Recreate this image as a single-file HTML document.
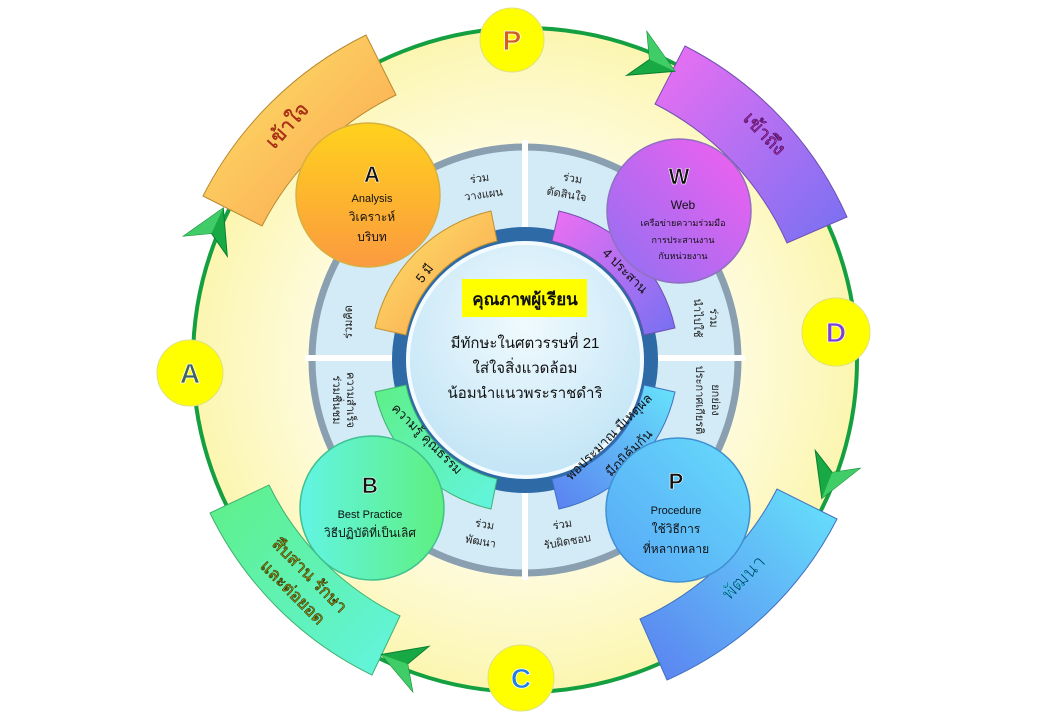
<!DOCTYPE html>
<html><head><meta charset="utf-8"><style>
html,body{margin:0;padding:0;background:#fff;}
svg{display:block;}
text{font-family:"Liberation Sans","Noto Sans CJK SC",sans-serif;}
</style></head><body>
<svg width="1040" height="720" viewBox="0 0 1040 720" xmlns="http://www.w3.org/2000/svg">
<defs>
<radialGradient id="bg" cx="525" cy="360" r="332" gradientUnits="userSpaceOnUse">
<stop offset="0.35" stop-color="#ffffff"/><stop offset="1" stop-color="#fcf6b0"/></radialGradient>
<linearGradient id="gy" x1="0" y1="0" x2="1" y2="1"><stop offset="0" stop-color="#fde56a"/><stop offset="1" stop-color="#fba04e"/></linearGradient>
<linearGradient id="gp" x1="0" y1="0" x2="1" y2="1"><stop offset="0" stop-color="#ee6ff2"/><stop offset="1" stop-color="#7670f2"/></linearGradient>
<linearGradient id="gb" x1="1" y1="0" x2="0" y2="1"><stop offset="0" stop-color="#66e4fb"/><stop offset="1" stop-color="#5a7ff0"/></linearGradient>
<linearGradient id="gg" x1="0" y1="0" x2="1" y2="1"><stop offset="0" stop-color="#5ef086"/><stop offset="1" stop-color="#62f4e0"/></linearGradient>
<linearGradient id="pa" x1="0" y1="0" x2="0" y2="1"><stop offset="0" stop-color="#ffd21c"/><stop offset="1" stop-color="#fb9a40"/></linearGradient>
<linearGradient id="pw" x1="0" y1="1" x2="1" y2="0"><stop offset="0" stop-color="#8f70f2"/><stop offset="1" stop-color="#f460ef"/></linearGradient>
<linearGradient id="pb" x1="0" y1="0" x2="1" y2="0"><stop offset="0" stop-color="#62f4e4"/><stop offset="1" stop-color="#5ef080"/></linearGradient>
<linearGradient id="pp" x1="0" y1="1" x2="1" y2="0"><stop offset="0" stop-color="#58a6f6"/><stop offset="1" stop-color="#66dcfb"/></linearGradient>
<radialGradient id="ctr" cx="0.5" cy="0.35" r="0.7"><stop offset="0" stop-color="#f0fafe"/><stop offset="1" stop-color="#bfe3f5"/></radialGradient>
<g id="chev"><polygon points="22,0 -20,-24 -6,0 -20,24" fill="#18a844" stroke="#0b8030" stroke-width="1"/><polygon points="22,0 -6,0 -20,-24" fill="#40cc66"/></g>
</defs>

<circle cx="525" cy="360" r="332" fill="url(#bg)" stroke="#14a040" stroke-width="4"/>

<path d="M366,35 A362 362 0 0 0 203,196 L262,226 A295 295 0 0 1 396,95 Z" fill="url(#gy)" stroke="#b88a30" stroke-width="1"/>
<path d="M685,46 A352 352 0 0 1 847,217 L787,243 A287 287 0 0 0 655,104 Z" fill="url(#gp)" stroke="#7050b0" stroke-width="1"/>
<path d="M837,519 A350 350 0 0 1 667,680 L640,619 A283 283 0 0 0 777,489 Z" fill="url(#gb)" stroke="#4070c0" stroke-width="1"/>
<path d="M210,513 A350 350 0 0 0 372,675 L400,616 A285 285 0 0 1 269,485 Z" fill="url(#gg)" stroke="#40b070" stroke-width="1"/>

<text transform="translate(292,130) rotate(-48)" font-size="20" fill="#c0301a" text-anchor="middle" stroke="#7a1a0a" stroke-width="0.4">เข้าใจ</text>
<text transform="translate(760,138) rotate(46)" font-size="19" fill="#b030b0" text-anchor="middle" stroke="#300040" stroke-width="0.5">เข้าถึง</text>
<text transform="translate(748,582) rotate(-46)" font-size="19" fill="#1a4080" text-anchor="middle" stroke="#40e0f0" stroke-width="0.4">พัฒนา</text>
<g transform="translate(300,585) rotate(45)" font-size="17" fill="#b0a818" stroke="#303000" stroke-width="0.6" text-anchor="middle">
<text x="0" y="-8">สืบสาน รักษา</text><text x="0" y="16">และต่อยอด</text></g>

<use href="#chev" transform="translate(655,62) rotate(25)"/>
<use href="#chev" transform="translate(830,478) rotate(112)"/>
<use href="#chev" transform="translate(402,662) rotate(200)"/>
<use href="#chev" transform="translate(214,228) rotate(-65)"/>

<g font-size="28" font-weight="bold" text-anchor="middle" stroke="#ffffff" stroke-width="0.8">
<circle cx="512" cy="40" r="32" fill="#ffff00" stroke="#e0e080" stroke-width="1"/>
<text x="512" y="50" fill="#d0601a">P</text>
<circle cx="836" cy="332" r="34" fill="#ffff00" stroke="#e0e080" stroke-width="1"/>
<text x="836" y="342" fill="#8040d0">D</text>
<circle cx="521" cy="678" r="33" fill="#ffff00" stroke="#e0e080" stroke-width="1"/>
<text x="521" y="688" fill="#2080e0">C</text>
<circle cx="190" cy="373" r="33" fill="#ffff00" stroke="#e0e080" stroke-width="1"/>
<text x="190" y="383" fill="#406060">A</text>
</g>

<circle cx="525" cy="360" r="213" fill="#d3ebf7" stroke="#8a9fb0" stroke-width="7"/>
<rect x="522" y="140" width="6" height="440" fill="#fff"/>
<rect x="305" y="355" width="440" height="6" fill="#fff"/>

<g font-size="11" fill="#222" text-anchor="middle">
<text transform="translate(480,182) rotate(-8)">ร่วม</text>
<text transform="translate(484,198) rotate(-8)">วางแผน</text>
<text transform="translate(572,182) rotate(10)">ร่วม</text>
<text transform="translate(566,198) rotate(10)">ตัดสินใจ</text>
<text transform="translate(352,322) rotate(-90)">ร่วมคิด</text>
<text transform="translate(710,318) rotate(90)">ร่วม</text>
<text transform="translate(694,318) rotate(90)">นำไปใช้</text>
<text transform="translate(333,400) rotate(90)">ร่วมชื่นชม</text>
<text transform="translate(347,400) rotate(90)">ความสำเร็จ</text>
<text transform="translate(696,400) rotate(90)">ประกาศเกียรติ</text>
<text transform="translate(712,400) rotate(90)">ยกย่อง</text>
<text transform="translate(484,528) rotate(10)">ร่วม</text>
<text transform="translate(480,545) rotate(10)">พัฒนา</text>
<text transform="translate(563,528) rotate(-10)">ร่วม</text>
<text transform="translate(568,545) rotate(-10)">รับผิดชอบ</text>
</g>

<circle cx="525" cy="360" r="133" fill="#2d6aa6"/>
<circle cx="525" cy="360" r="117" fill="url(#ctr)" stroke="#f4fbff" stroke-width="4"/>

<path d="M491,211 A153 153 0 0 0 375,328 L406,335 A122 122 0 0 1 497,241 Z" fill="url(#gy)" stroke="#c09030" stroke-width="1"/>
<path d="M559,211 A153 153 0 0 1 675,328 L644,335 A122 122 0 0 0 552,241 Z" fill="url(#gp)" stroke="#7050b0" stroke-width="1"/>
<path d="M375,392 A153 153 0 0 0 491,509 L497,479 A122 122 0 0 1 406,385 Z" fill="url(#gg)" stroke="#40b070" stroke-width="1"/>
<path d="M675,392 A153 153 0 0 1 559,509 L552,479 A122 122 0 0 0 644,385 Z" fill="url(#gb)" stroke="#4070c0" stroke-width="1"/>
<g font-size="13" fill="#111" text-anchor="middle">
<text transform="translate(428,276) rotate(-52)">5 มี</text>
<text transform="translate(622,274) rotate(45)">4 ประสาน</text>
<text transform="translate(424,442) rotate(45)">ความรู้ คุณธรรม</text>
<text transform="translate(612,440) rotate(-45)">พอประมาณ มีเหตุผล</text>
<text transform="translate(632,456) rotate(-45)">มีภูมิคุ้มกัน</text>
</g>

<rect x="462" y="279" width="125" height="38" fill="#ffff00"/>
<g text-anchor="middle" fill="#111">
<text x="525" y="305" font-size="17" font-weight="bold">คุณภาพผู้เรียน</text>
<text x="525" y="348" font-size="15">มีทักษะในศตวรรษที่ 21</text>
<text x="525" y="373" font-size="15">ใส่ใจสิ่งแวดล้อม</text>
<text x="525" y="398" font-size="15">น้อมนำแนวพระราชดำริ</text>
</g>

<circle cx="368" cy="195" r="72" fill="url(#pa)" stroke="#d8b040" stroke-width="1.5"/>
<circle cx="679" cy="211" r="72" fill="url(#pw)" stroke="#9070c0" stroke-width="1.5"/>
<circle cx="372" cy="508" r="72" fill="url(#pb)" stroke="#40c090" stroke-width="1.5"/>
<circle cx="678" cy="510" r="72" fill="url(#pp)" stroke="#4090d0" stroke-width="1.5"/>
<g text-anchor="middle" fill="#111">
<text x="372" y="182" font-size="22" font-weight="bold" stroke="#fff" stroke-width="0.6">A</text>
<text x="372" y="202" font-size="11">Analysis</text>
<text x="372" y="221" font-size="12">วิเคราะห์</text>
<text x="372" y="241" font-size="12">บริบท</text>
<text x="679" y="184" font-size="22" font-weight="bold" stroke="#fff" stroke-width="0.6">W</text>
<text x="683" y="209" font-size="12">Web</text>
<text x="683" y="226" font-size="9">เครือข่ายความร่วมมือ</text>
<text x="683" y="243" font-size="9">การประสานงาน</text>
<text x="683" y="259" font-size="9">กับหน่วยงาน</text>
<text x="370" y="493" font-size="22" font-weight="bold" stroke="#fff" stroke-width="0.6">B</text>
<text x="370" y="518" font-size="11">Best Practice</text>
<text x="370" y="537" font-size="12">วิธีปฏิบัติที่เป็นเลิศ</text>
<text x="676" y="489" font-size="22" font-weight="bold" stroke="#fff" stroke-width="0.6">P</text>
<text x="676" y="514" font-size="11">Procedure</text>
<text x="676" y="533" font-size="12">ใช้วิธีการ</text>
<text x="676" y="553" font-size="12">ที่หลากหลาย</text>
</g>
</svg>
</body></html>
